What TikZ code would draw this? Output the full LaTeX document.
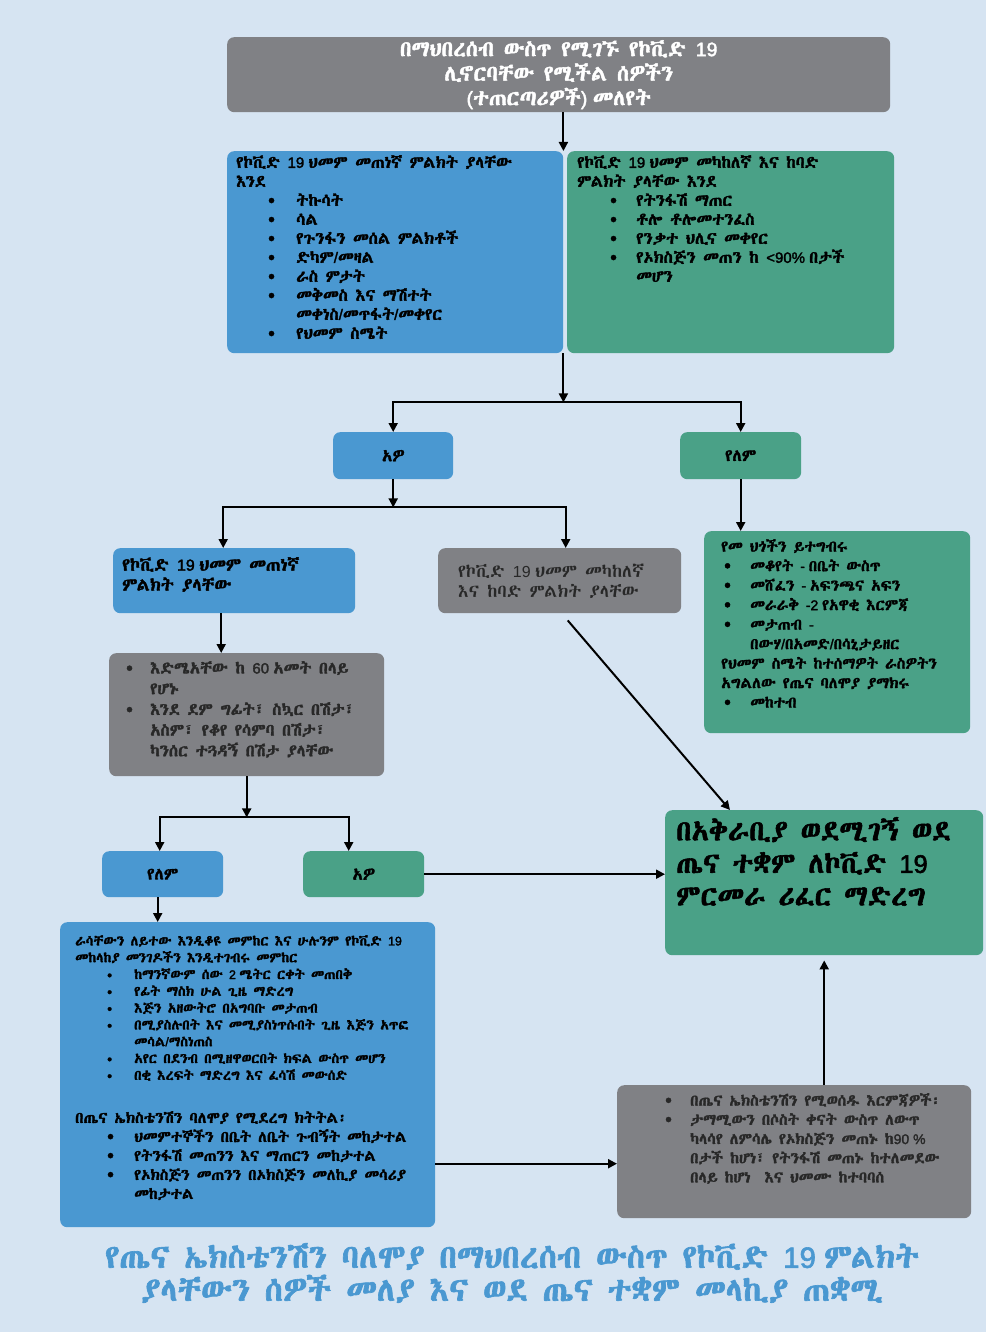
\documentclass[tikz,border=0pt]{standalone}
\usepackage{fontspec}
\usetikzlibrary{arrows.meta, positioning}

\setmainfont{Liberation Sans}[BoldFont={Liberation Sans}, BoldFeatures={FakeBold=2}]
\IfFontExistsTF{FreeSerif.otf}{%
  \newfontfamily\ethfont{FreeSerif}[Extension=.otf, Scale=1.12, BoldFont=FreeSerif, BoldFeatures={FakeBold=2}]}{%
  \newfontfamily\ethfont{Abyssinica SIL}[Scale=1.12, BoldFont={Abyssinica SIL}, BoldFeatures={FakeBold=2}]}

% Ethiopic letters go to \ethfont, the rest stays in the main font
\XeTeXinterchartokenstate=1
\newXeTeXintercharclass\ethclass
\newcount\ethchar
\ethchar="1200
\loop
  \XeTeXcharclass\ethchar=\ethclass
  \advance\ethchar by 1
\ifnum\ethchar<"13A0 \repeat
\XeTeXinterchartoks 0 \ethclass = {\ethfont}
\XeTeXinterchartoks 4095 \ethclass = {\ethfont}
\XeTeXinterchartoks \ethclass 0 = {\rmfamily}
\XeTeXinterchartoks 4095 0 = {\rmfamily}

\definecolor{pagebg}{RGB}{214,228,242}
\definecolor{boxblue}{RGB}{74,152,209}
\definecolor{boxgreen}{RGB}{74,161,135}
\definecolor{boxgray}{RGB}{128,129,133}
\definecolor{titleblue}{RGB}{74,152,209}
\definecolor{darktext}{RGB}{40,40,40}

\newlength\bulind
\newlength\bulgap
\newcommand\bulfont{\fontsize{19}{19}\selectfont}
\newcommand\pitem[1]{\hspace*{\bulind}\makebox[\bulgap][l]{\smash{\raisebox{-1pt}{\bulfont\textbullet}}}#1}
\newcommand\pcont[1]{\hspace*{\bulind}\hspace*{\bulgap}#1}

\begin{document}
\begin{tikzpicture}[x=1pt, y=-1pt]
    \tikzset{
        panel/.style={rounded corners=7pt, anchor=north west, inner sep=0pt},
        bluepanel/.style={panel, fill=boxblue},
        greenpanel/.style={panel, fill=boxgreen},
        graypanel/.style={panel, fill=boxgray},
        words/.style={anchor=north west, inner sep=0pt, align=left},
        arr/.style={-{Triangle[length=9pt, width=9pt]}, line width=2pt}
    }

    \useasboundingbox[fill=pagebg] (0,0) rectangle (986,1332);

    % Screening
    \node[graypanel, minimum width=663pt, minimum height=75pt] (screen) at (227,37) {};
    \node[words, anchor=center, align=center, text=white, font=\fontsize{19.5}{24.5}\selectfont\bfseries] (screentxt) at (screen.center)
        {በማህበረሰብ ውስጥ የሚገኙ የኮቪድ 19\\ሊኖርባቸው የሚችል ሰዎችን\\(ተጠርጣሪዎች) መለየት};

    % Symptom boxes
    \node[bluepanel, minimum width=336pt, minimum height=202pt] (mild) at (227,151) {};
    \node[words, font=\fontsize{15}{19}\selectfont\bfseries\setlength\bulind{32pt}\setlength\bulgap{28pt}] (mildtxt) at (236,155)
        {የኮቪድ 19 ህመም መጠነኛ ምልክት ያላቸው\\እንደ\\
         \pitem{ትኩሳት}\\\pitem{ሳል}\\\pitem{የጉንፋን መሰል ምልክቶች}\\\pitem{ድካም/መዛል}\\
         \pitem{ራስ ምታት}\\\pitem{መቅመስ እና ማሽተት}\\\pcont{መቀነስ/መጥፋት/መቀየር}\\\pitem{የህመም ስሜት}};

    \node[greenpanel, minimum width=327pt, minimum height=202pt] (severe) at (567,151) {};
    \node[words, font=\fontsize{15}{19}\selectfont\bfseries\setlength\bulind{33pt}\setlength\bulgap{26pt}] (severetxt) at (577,155)
        {የኮቪድ 19 ህመም መካከለኛ እና ከባድ\\ምልክት ያላቸው እንደ\\
         \pitem{የትንፋሽ ማጠር}\\\pitem{ቶሎ ቶሎመተንፈስ}\\\pitem{የንቃተ ህሊና መቀየር}\\
         \pitem{የኦክስጅን መጠን ከ <90\% በታች}\\\pcont{መሆን}};

    % First answer
    \node[bluepanel, minimum width=120pt, minimum height=47pt] (yes1) at (333,432) {};
    \node[font=\fontsize{15}{18}\selectfont\bfseries] (yes1txt) at (yes1.center) {አዎ};
    \node[greenpanel, minimum width=121pt, minimum height=47pt] (no1) at (680,432) {};
    \node[font=\fontsize{15}{18}\selectfont\bfseries] (no1txt) at (no1.center) {የለም};

    % Yes branch
    \node[bluepanel, minimum width=242pt, minimum height=65pt] (mild2) at (113,548) {};
    \node[words, font=\fontsize{16}{20}\selectfont\bfseries] (mild2txt) at (122,557)
        {የኮቪድ 19 ህመም መጠነኛ\\ምልክት ያላቸው};
    \node[graypanel, minimum width=243pt, minimum height=65pt] (severe2) at (438,548) {};
    \node[words, text=darktext, font=\fontsize{16}{20}\selectfont] (severe2txt) at (458,564)
        {የኮቪድ 19 ህመም መካከለኛ\\እና ከባድ ምልክት ያላቸው};

    % Prevention rules
    \node[greenpanel, minimum width=266pt, minimum height=202pt] (rules) at (704,531) {};
    \node[words, font=\fontsize{14}{19.5}\selectfont\bfseries\setlength\bulind{3pt}\setlength\bulgap{26pt}] (rulestxt) at (721,539)
        {የመ ህጎችን ይተግብሩ\\\pitem{መቆየት - በቤት ውስጥ}\\\pitem{መሸፈን - አፍንጫና አፍን}\\
         \pitem{መራራቅ -2 የአዋቂ እርምጃ}\\\pitem{መታጠብ -}\\\pcont{በውሃ/በአመድ/በሳኒታይዘር}\\
         የህመም ስሜት ከተሰማዎት ራስዎትን\\አግልለው የጤና ባለሞያ ያማክሩ\\\pitem{መከተብ}};

    % Risk factors
    \node[graypanel, minimum width=275pt, minimum height=123pt] (risk) at (109,653) {};
    \node[words, text=darktext, font=\fontsize{15}{20.7}\selectfont\bfseries\setlength\bulind{0pt}\setlength\bulgap{24pt}] (risktxt) at (126,661)
        {\pitem{እድሜአቸው ከ 60 አመት በላይ}\\\pcont{የሆኑ}\\\pitem{እንደ ደም ግፊት፣ ስኳር በሽታ፣}\\
         \pcont{አስም፣ የቆየ የሳምባ በሽታ፣}\\\pcont{ካንሰር ተጓዳኝ በሽታ ያላቸው}};

    % Second answer
    \node[bluepanel, minimum width=121pt, minimum height=46pt] (no2) at (102,851) {};
    \node[font=\fontsize{15}{18}\selectfont\bfseries] (no2txt) at (no2.center) {የለም};
    \node[greenpanel, minimum width=121pt, minimum height=46pt] (yes2) at (303,851) {};
    \node[font=\fontsize{15}{18}\selectfont\bfseries] (yes2txt) at (yes2.center) {አዎ};

    % Referral
    \node[greenpanel, minimum width=318pt, minimum height=145pt] (refer) at (665,810) {};
    \node[words, font=\fontsize{25.5}{32.5}\selectfont\bfseries] (refertxt) at (676,817)
        {በአቅራቢያ ወደሚገኝ ወደ\\ጤና ተቋም ለኮቪድ 19\\ምርመራ ሪፈር ማድረግ};

    % Home care advice
    \node[bluepanel, minimum width=375pt, minimum height=305pt] (advice) at (60,922) {};
    \node[words, font=\fontsize{12.5}{16.8}\selectfont\bfseries\setlength\bulind{32pt}\setlength\bulgap{27pt}\renewcommand\bulfont{\fontsize{14}{14}\selectfont}] (advicetxt) at (75,935)
        {ራሳቸውን ለይተው እንዲቆዩ መምከር እና ሁሉንም የኮቪድ 19\\መከላከያ መንገዶችን እንዲተገብሩ መምከር\\
         \pitem{ከማንኛውም ሰው 2 ሜትር ርቀት መጠበቅ}\\\pitem{የፊት ማስክ ሁል ጊዜ ማድረግ}\\
         \pitem{እጅን አዘውትሮ በአግባቡ መታጠብ}\\\pitem{በሚያስሉበት እና መሚያስነጥሱበት ጊዜ እጅን አጥፎ}\\
         \pcont{መሳል/ማስነጠስ}\\\pitem{አየር በደንብ በሚዘዋወርበት ክፍል ውስጥ መሆን}\\
         \pitem{በቂ እረፍት ማድረግ እና ፈሳሽ መውሰድ}};
    \node[words, font=\fontsize{14}{19}\selectfont\bfseries\setlength\bulind{32pt}\setlength\bulgap{27pt}] (followtxt) at (75,1111)
        {በጤና ኤክስቴንሽን ባለሞያ የሚደረግ ክትትል፡\\\pitem{ህመምተኞችን በቤት ለቤት ጉብኝት መከታተል}\\
         \pitem{የትንፋሽ መጠንን እና ማጠርን መከታተል}\\\pitem{የኦክስጅን መጠንን በኦክስጅን መለኪያ መሳሪያ}\\
         \pcont{መከታተል}};

    % Escalation
    \node[graypanel, minimum width=354pt, minimum height=133pt] (escal) at (617,1085) {};
    \node[words, text=darktext, font=\fontsize{14}{19.2}\selectfont\bfseries\setlength\bulind{0pt}\setlength\bulgap{25pt}] (escaltxt) at (665,1093)
        {\pitem{በጤና ኤክስቴንሽን የሚወሰዱ እርምጃዎች፡}\\\pitem{ታማሚውን በሶስት ቀናት ውስጥ ለውጥ}\\
         \pcont{ካላሳየ ለምሳሌ የኦክስጅን መጠኑ ከ90 \%}\\\pcont{በታች ከሆነ፣ የትንፋሽ መጠኑ ከተለመደው}\\
         \pcont{በላይ ከሆነ\ \ እና ህመሙ ከተባባሰ}};

    % Title
    \node[words, anchor=center, align=center, text=titleblue, font=\fontsize{29.4}{33}\selectfont\bfseries] (title) at (512,1273)
        {የጤና ኤክስቴንሽን ባለሞያ በማህበረሰብ ውስጥ የኮቪድ 19 ምልክት\\ያላቸውን ሰዎች መለያ እና ወደ ጤና ተቋም መላኪያ ጠቋሚ};

    % Junctions
    \path (mild.south east) ++(0,49) coordinate (split1);
    \path (yes1.south) ++(0,28) coordinate (split2);
    \path (risk.south) ++(0,41) coordinate (split3);
    \path ([xshift=-13pt]mild2.south) coordinate (m2out);
    \path ([xshift=-5pt]no2.south) coordinate (n2out);
    \path ([yshift=-12pt]escal.west) coordinate (escin);

    % Arrows
    \draw[arr] (screen.south -| mild.east) -- (mild.north east);
    \draw[arr] (mild.south east) -- (split1);
    \draw[arr] (split1) -| (yes1.north);
    \draw[arr] (split1) -| (no1.north);
    \draw[arr] (yes1.south) -- (split2);
    \draw[arr] (split2) -| ([xshift=-11pt]mild2.north);
    \draw[arr] (split2) -| ([xshift=6pt]severe2.north);
    \draw[arr] (no1.south) -- (no1.south |- rules.north);
    \draw[arr] (m2out) -- (m2out |- risk.north);
    \draw[arr] (risk.south) -- (split3);
    \draw[arr] (split3) -| ([xshift=-3pt]no2.north);
    \draw[arr] (split3) -| ([xshift=-15pt]yes2.north);
    \draw[arr] ([xshift=8pt, yshift=-7pt]severe2.south) -- ([xshift=65pt]refer.north west);
    \draw[arr] (yes2.east) -- (yes2.east -| refer.west);
    \draw[arr] (n2out) -- (n2out |- advice.north);
    \draw[arr] (advice.east |- escin) -- (escin);
    \draw[arr] (refer.south |- escal.north) -- ([yshift=-5pt]refer.south);
\end{tikzpicture}
\end{document}
